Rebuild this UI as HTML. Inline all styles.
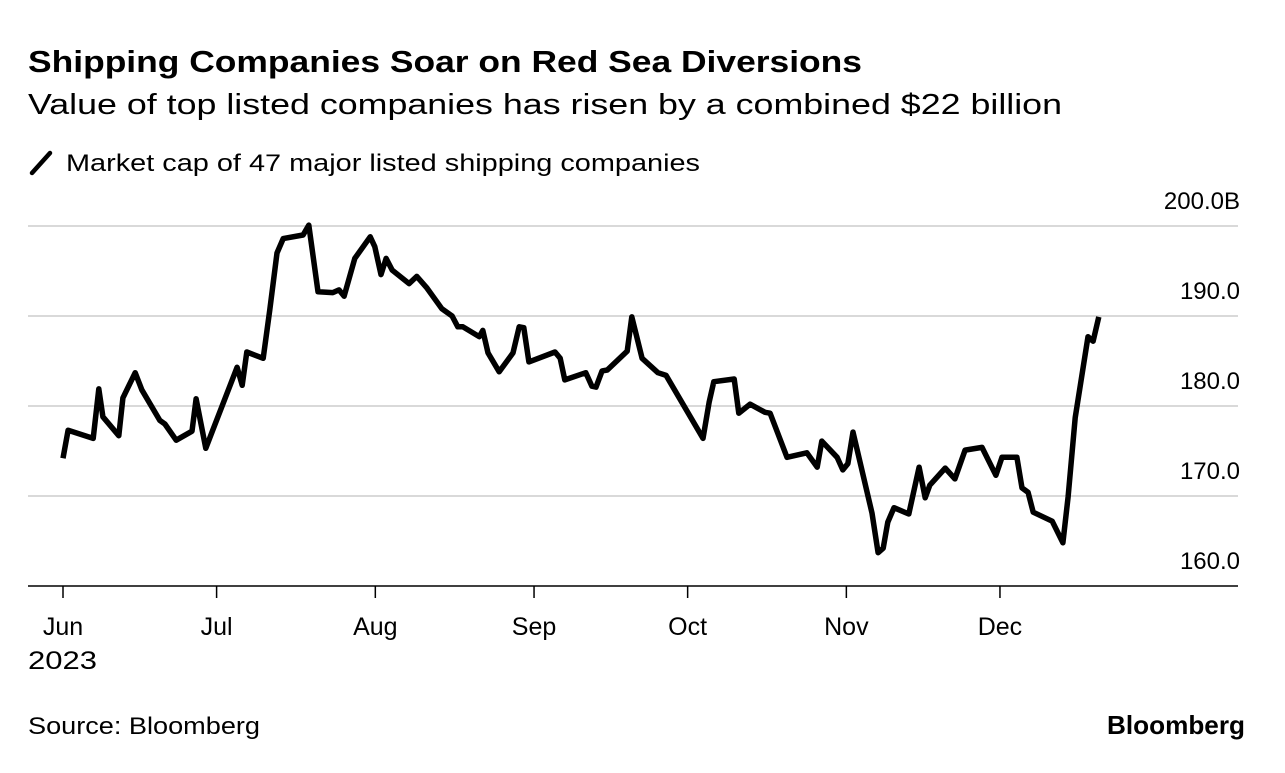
<!DOCTYPE html>
<html><head><meta charset="utf-8"><style>
body{margin:0;background:#fff;width:1285px;height:768px;overflow:hidden;font-family:"Liberation Sans",sans-serif;}
</style></head><body>
<svg width="1285" height="768" xmlns="http://www.w3.org/2000/svg" font-family="Liberation Sans, sans-serif">
<text x="28" y="72" font-size="31" font-weight="bold" fill="#000" textLength="834" lengthAdjust="spacingAndGlyphs">Shipping Companies Soar on Red Sea Diversions</text>
<text x="28" y="114" font-size="29" fill="#000" textLength="1034" lengthAdjust="spacingAndGlyphs">Value of top listed companies has risen by a combined $22 billion</text>
<g>
<line x1="32" y1="173" x2="50" y2="153" stroke="#000" stroke-width="4.5" stroke-linecap="round"/>
<text x="66" y="171" font-size="24" fill="#000" textLength="634" lengthAdjust="spacingAndGlyphs">Market cap of 47 major listed shipping companies</text>
</g>
<g id="grid"></g><g id="axes"></g><g id="series"></g>
<text x="28" y="734" font-size="24" fill="#000" textLength="232" lengthAdjust="spacingAndGlyphs">Source: Bloomberg</text>
<text x="1245" y="734" font-size="26" font-weight="bold" fill="#000" text-anchor="end" textLength="138" lengthAdjust="spacingAndGlyphs">Bloomberg</text>
</svg>
<script>
const days=[0,1,5.9,7,7.8,10.9,11.7,14.1,15.4,18.9,19.9,22.1,25.2,26,27.9,29.1,34,35,35.9,39.1,40.4,41.8,43,46.9,48,49.8,52.7,53.9,54.9,57,60,60.9,62.1,63.1,64.3,67.6,69.1,71.1,74,76,77.1,78.1,81.3,82,83,85.2,87.9,89.1,90,91,96.1,97.1,98,102.1,103.3,104.1,105.3,106.3,110.2,111.1,113.1,116.2,117.8,125,126.2,127.1,131.1,132,134.2,137.1,138.1,141.4,145.3,147.3,148.2,151.2,152.3,153.3,154.3,158,159.2,160.2,161.1,162.3,165.2,167.2,168.4,169.3,172.3,174.2,176.2,179.5,182.2,183.4,186.3,187.3,188.5,189.5,193.2,195.3,196.3,197.7,200.2,201.2,202.3];
const values=[174.2,177.3,176.4,181.9,178.8,176.7,180.9,183.7,181.8,178.4,178,176.2,177.2,180.8,175.3,177.1,184.3,182.3,186,185.3,190.7,197,198.6,199,200.1,192.7,192.6,192.9,192.2,196.4,198.8,197.7,194.6,196.4,195.1,193.6,194.4,193.1,190.8,190,188.8,188.8,187.7,188.4,185.9,183.8,185.9,188.8,188.7,184.9,186,185.3,182.9,183.7,182.2,182.1,183.9,184,186.1,189.9,185.3,183.7,183.4,176.4,180.4,182.7,183,179.2,180.2,179.3,179.2,174.3,174.8,173.2,176.1,174.3,172.9,173.6,177.1,168.1,163.7,164.2,167.1,168.7,168,173.2,169.8,171.2,173.1,171.9,175.1,175.4,172.3,174.3,174.3,170.9,170.4,168.2,167.2,164.8,169.9,178.7,187.7,187.2,189.9];
const yTicks=[160,170,180,190,200];
const yTickLabels=["160.0","170.0","180.0","190.0","200.0B"];
const monthDays=[0,30,61,92,122,153,183];
const monthLabels=["Jun","Jul","Aug","Sep","Oct","Nov","Dec"];
const NS="http://www.w3.org/2000/svg";
const x=d=>63+d*5.12;
const y=v=>586-(v-160)*9;
function mk(tag,attrs,parent){const e=document.createElementNS(NS,tag);for(const k in attrs)e.setAttribute(k,attrs[k]);parent.appendChild(e);return e;}
const grid=document.getElementById('grid'),axes=document.getElementById('axes'),series=document.getElementById('series');
yTicks.forEach((t,i)=>{
 if(t!==160){const l=mk('line',{x1:28,x2:1238,y1:y(t),y2:y(t),stroke:'#d9d9d9','stroke-width':2},grid);
 
 }
 const tx=mk('text',{x:1240,y:y(t)-17,'font-size':24,'text-anchor':'end',fill:'#000'},axes);
 tx.textContent=yTickLabels[i];
 
 
});
const base=mk('line',{x1:28,x2:1238,y1:y(160),y2:y(160),stroke:'#000','stroke-width':1.5},axes);


monthDays.forEach((d,i)=>{
 const tk=mk('line',{x1:x(d),x2:x(d),y1:586,y2:598,stroke:'#000','stroke-width':1.5},axes);
 
 
 const tx=mk('text',{x:x(d),y:635,'font-size':25,'text-anchor':'middle',fill:'#000'},axes);
 tx.textContent=monthLabels[i];
 
 
});
const yr=mk('text',{x:28,y:669,'font-size':25,fill:'#000',textLength:69,lengthAdjust:'spacingAndGlyphs'},axes);
yr.textContent='2023';


const p=mk('path',{d:days.map((d,i)=>(i?'L':'M')+x(d).toFixed(1)+','+y(values[i]).toFixed(1)).join(''),fill:'none',stroke:'#000','stroke-width':5.5,'stroke-linejoin':'round','stroke-linecap':'butt'},series);


</script>
</body></html>
